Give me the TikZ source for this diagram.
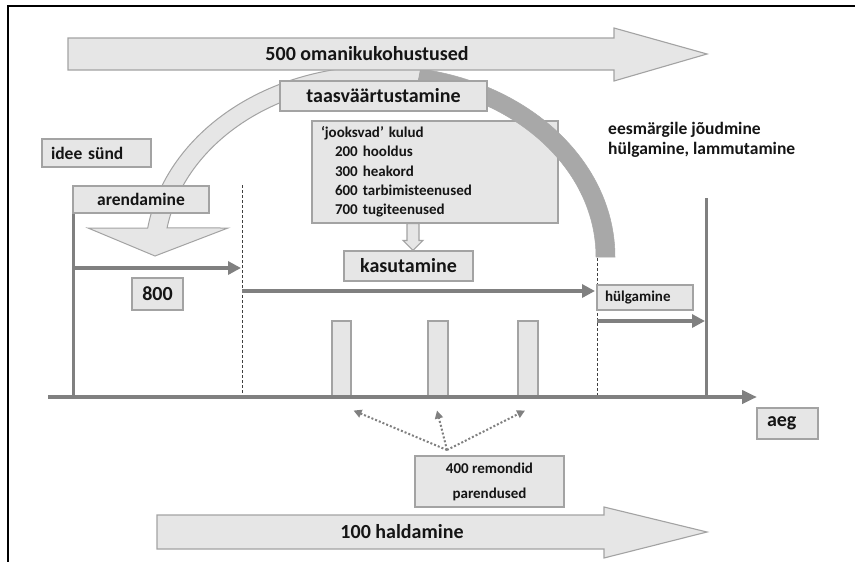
\documentclass[tikz,border=0pt]{standalone}
\usepackage{fontspec}
\setmainfont{Carlito}
\usetikzlibrary{arrows.meta,calc}
\definecolor{boxfill}{HTML}{E6E6E6}
\definecolor{boxline}{HTML}{A3A3A3}
\definecolor{axisgray}{HTML}{808080}
\definecolor{bandgray}{HTML}{A8A8A8}
\definecolor{txt}{HTML}{151515}
\begin{document}
\begin{tikzpicture}[x=1pt,y=-1pt,
  box/.style={draw=boxline, fill=boxfill, line width=1.1pt, inner sep=0pt, text=txt},
  big/.style={font=\fontsize{20}{24}\selectfont\bfseries, text=txt},
  med/.style={font=\fontsize{17.5}{20}\selectfont\bfseries, text=txt},
  small/.style={font=\fontsize{15}{18}\selectfont\bfseries, text=txt},
  gline/.style={draw=axisgray, line width=4pt},
  garrow/.style={gline, -{Triangle[length=13pt,width=13pt]}},
  vline/.style={draw=axisgray, line width=3pt},
  dline/.style={draw=black!75, line width=0.8pt, dash pattern=on 3pt off 2pt},
  dotarrow/.style={draw=axisgray, line width=2pt, dash pattern=on 2pt off 2pt, -{Triangle[length=8pt,width=8pt]}},
  blockarrow/.style={draw=boxline, fill=boxfill, line width=1.1pt},
]
\useasboundingbox (0,0) rectangle (855,562);
\fill[white] (0,0) rectangle (855,562);
% frame
\draw[black, line width=2pt] (8,562) -- (8,6) -- (855,6);

% running costs box (behind the band)
\node[box, small, minimum width=246pt, minimum height=102pt, text width=228pt, inner xsep=9pt, align=left,
      font=\fontsize{15}{19.3}\selectfont\bfseries] (jk) at (435,172)
  {‘jooksvad’ kulud\\
   \hspace*{14pt}200 hooldus\\
   \hspace*{14pt}300 heakord\\
   \hspace*{14pt}600 tarbimisteenused\\
   \hspace*{14pt}700 tugiteenused};

% curved band: light part with arrow head
\path[draw=boxline, fill=boxfill, line width=1pt]
  ({380+235*cos(188.7)},{257+191*sin(188.7)})
  arc[start angle=188.7, end angle=280, x radius=235, y radius=191]
  -- ({380+216*cos(280)},{257+174*sin(280)})
  arc[start angle=280, end angle=189.6, x radius=216, y radius=174]
  -- (228,228) -- (155,256) -- (88,228) -- cycle;
% dark part
\path[draw=bandgray, fill=bandgray, line width=0.5pt]
  ({380+235*cos(280)},{257+191*sin(280)})
  arc[start angle=280, end angle=360, x radius=235, y radius=191]
  -- (596,257)
  arc[start angle=360, end angle=280, x radius=216, y radius=174]
  -- cycle;

% top block arrow
\path[blockarrow] (68,38) -- (614,38) -- (614,28) -- (707,54) -- (614,81) -- (614,70) -- (68,70) -- cycle;
\node[big] (omanik) at (367,54) {500 omanikukohustused};

% bottom block arrow
\path[blockarrow] (157,515) -- (604,515) -- (604,507) -- (707,532) -- (604,558) -- (604,549) -- (157,549) -- cycle;
\node[big] (haldamine) at (402,532) {100 haldamine};

% vertical lines
\coordinate (v1t) at (73.5,199);
\coordinate (v1b) at (73.5,397);
\coordinate (v2t) at (706,198);
\coordinate (v2b) at (706,397);
\coordinate (d1t) at (242,185);
\coordinate (d1b) at (242,397);
\coordinate (d2t) at (597,258);
\coordinate (d2b) at (597,397);
\draw[vline] (v1t) -- (v1b);
\draw[vline] (v2t) -- (v2b);
\draw[dline] (d1t) -- (d1b);
\draw[dline] (d2t) -- (d2b);

% boxes
\node[box, big] (taas) at (383.5,96) [minimum width=207pt, minimum height=30pt] {taasväärtustamine};
\node[box, big] (kas) at (408.5,266) [minimum width=129pt, minimum height=30pt] {kasutamine};
\node[box, med, minimum width=109pt, minimum height=28pt, text width=91pt, inner xsep=9pt, align=left] (idee) at (96.5,153) {idee sünd};
\node[box, med, minimum width=136pt, minimum height=27pt] (arend) at (141,199.5) {arendamine};
\node[box, big, minimum width=51pt, minimum height=32pt] (n800) at (157.5,294) {800};
\node[box, small, minimum width=96pt, minimum height=25pt, text width=80pt, inner xsep=8pt, align=left] (hulg) at (645,297.5) {hülgamine};
\node[box, big, minimum width=61pt, minimum height=31pt, text width=41pt, inner xsep=10pt, align=left] (aeg) at (787.5,423.5) {aeg};
\node[box, small, minimum width=149pt, minimum height=51pt, align=center, font=\fontsize{15}{25}\selectfont\bfseries] (rem) at (489.5,481.5) {400 remondid\\parendused};
\node[med, align=left, anchor=west, inner sep=0pt] (goal) at (608,139.5) {eesmärgile jõudmine\\hülgamine, lammutamine};

% hollow arrow jooksvad -> kasutamine
\path[blockarrow] ($(jk.south)+(-28,0)$) -- ($(jk.south)+(-16,0)$) -- ($(kas.north)+(10.5,-10)$)
  -- ($(kas.north)+(14.5,-10)$) -- ($(kas.north)+(4.5,0)$) -- ($(kas.north)+(-5.5,-10)$)
  -- ($(kas.north)+(-1.5,-10)$) -- cycle;

% repair bars
\node[box, minimum width=19pt, minimum height=76pt] (r1) at (341.5,359) {};
\node[box, minimum width=20pt, minimum height=76pt] (r2) at (438,359) {};
\node[box, minimum width=20pt, minimum height=76pt] (r3) at (528,359) {};

% time axis
\coordinate (t0) at (48,397);
\coordinate (t1) at (757,397);
\draw[gline, -{Triangle[length=15pt,width=13pt]}] (t0) -- (t1);

% horizontal phase arrows
\coordinate (h1a) at (73.5,268);
\coordinate (h1b) at (241,268);
\coordinate (h2a) at (242,291);
\coordinate (h2b) at (595,291);
\coordinate (h3a) at (597,321);
\coordinate (h3b) at (705,321);
\draw[garrow] (h1a) -- (h1b);
\draw[garrow] (h2a) -- (h2b);
\draw[garrow] (h3a) -- (h3b);

% dotted arrows
\coordinate (dsrc) at (447,450);
\draw[dotarrow] (dsrc) -- ($(r1.south east)+(2,13)$);
\draw[dotarrow] (dsrc) -- ($(r2.south)+(-1,13)$);
\draw[dotarrow] (dsrc) -- ($(r3.south)+(-3,13)$);
\end{tikzpicture}
\end{document}
